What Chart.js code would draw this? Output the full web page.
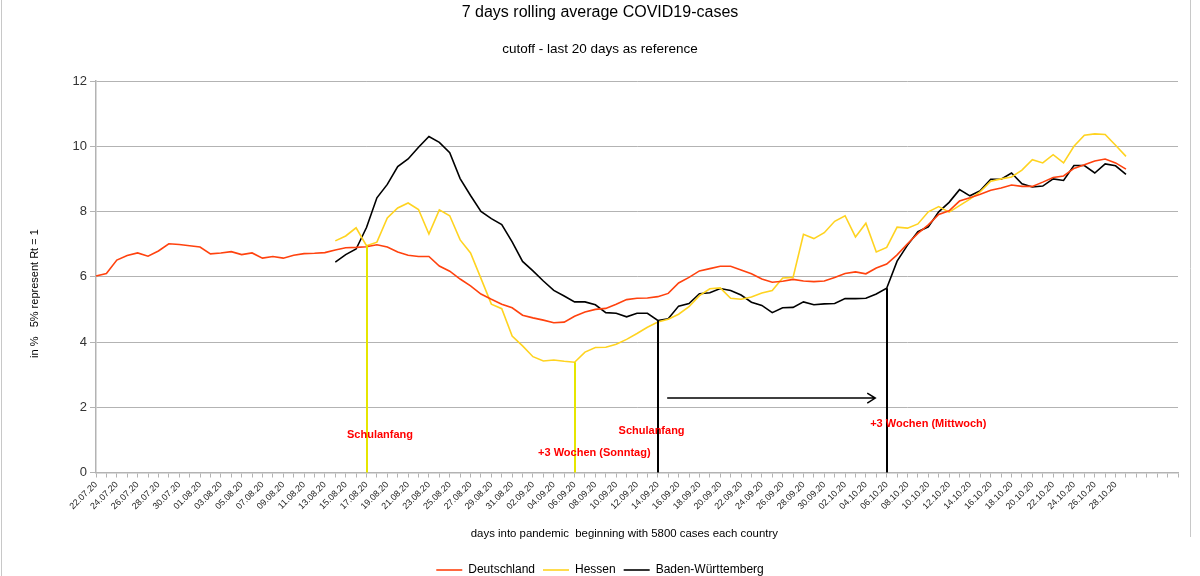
<!DOCTYPE html>
<html>
<head>
<meta charset="utf-8">
<script src="https://cdn.jsdelivr.net/npm/chart.js@4"></script>
<style>
html,body{margin:0;padding:0;background:#fff;}
#wrap{width:1200px;height:576px;position:relative;overflow:hidden;}
</style>
</head>
<body>
<div id="wrap"><canvas id="c" width="1200" height="576"></canvas></div>
<script>
// ---- categories (days) ----
const categories = [
'22.07.20','23.07.20','24.07.20','25.07.20','26.07.20','27.07.20','28.07.20','29.07.20','30.07.20','31.07.20',
'01.08.20','02.08.20','03.08.20','04.08.20','05.08.20','06.08.20','07.08.20','08.08.20','09.08.20','10.08.20',
'11.08.20','12.08.20','13.08.20','14.08.20','15.08.20','16.08.20','17.08.20','18.08.20','19.08.20','20.08.20',
'21.08.20','22.08.20','23.08.20','24.08.20','25.08.20','26.08.20','27.08.20','28.08.20','29.08.20','30.08.20',
'31.08.20','01.09.20','02.09.20','03.09.20','04.09.20','05.09.20','06.09.20','07.09.20','08.09.20','09.09.20',
'10.09.20','11.09.20','12.09.20','13.09.20','14.09.20','15.09.20','16.09.20','17.09.20','18.09.20','19.09.20',
'20.09.20','21.09.20','22.09.20','23.09.20','24.09.20','25.09.20','26.09.20','27.09.20','28.09.20','29.09.20',
'30.09.20','01.10.20','02.10.20','03.10.20','04.10.20','05.10.20','06.10.20','07.10.20','08.10.20','09.10.20',
'10.10.20','11.10.20','12.10.20','13.10.20','14.10.20','15.10.20','16.10.20','17.10.20','18.10.20','19.10.20',
'20.10.20','21.10.20','22.10.20','23.10.20','24.10.20','25.10.20','26.10.20','27.10.20','28.10.20','29.10.20',
'','','','',''
];
// last labelled day on the axis
const lastLabel = '28.10.20';

// ---- series values (in %) ----
const deutschland = [
6.02,6.10,6.51,6.65,6.73,6.63,6.79,7.01,6.99,6.95,
6.91,6.70,6.73,6.77,6.68,6.73,6.57,6.62,6.57,6.66,
6.71,6.72,6.74,6.82,6.89,6.90,6.92,6.98,6.91,6.76,
6.66,6.62,6.62,6.33,6.17,5.93,5.72,5.47,5.31,5.16,
5.05,4.82,4.74,4.67,4.59,4.61,4.79,4.92,5.00,5.03,
5.16,5.30,5.34,5.35,5.39,5.49,5.81,5.98,6.18,6.25,
6.32,6.32,6.21,6.09,5.93,5.83,5.86,5.92,5.87,5.85,
5.87,5.98,6.10,6.15,6.09,6.27,6.39,6.67,7.01,7.33,
7.59,7.91,8.02,8.32,8.42,8.53,8.65,8.72,8.81,8.77,
8.77,8.90,9.04,9.09,9.32,9.43,9.55,9.61,9.49,9.30
];
const hessen = [
null,null,null,null,null,null,null,null,null,null,
null,null,null,null,null,null,null,null,null,null,
null,null,null,7.10,7.25,7.50,6.95,7.06,7.80,8.11,
8.26,8.06,7.31,8.05,7.87,7.13,6.73,5.95,5.16,5.02,
4.18,3.88,3.55,3.42,3.45,3.41,3.38,3.69,3.83,3.84,
3.93,4.08,4.26,4.45,4.61,4.70,4.85,5.08,5.42,5.63,
5.66,5.34,5.31,5.38,5.50,5.58,5.96,5.98,7.30,7.17,
7.35,7.70,7.87,7.22,7.64,6.76,6.90,7.52,7.49,7.62,
7.99,8.15,7.98,8.18,8.38,8.61,8.93,9.00,9.06,9.27,
9.59,9.49,9.74,9.49,10.00,10.34,10.38,10.36,10.03,9.69
];
const badenWuerttemberg = [
null,null,null,null,null,null,null,null,null,null,
null,null,null,null,null,null,null,null,null,null,
null,null,null,6.45,6.68,6.85,7.51,8.42,8.83,9.38,
9.61,9.97,10.30,10.12,9.80,9.01,8.49,8.00,7.78,7.60,
7.07,6.47,6.18,5.87,5.58,5.41,5.23,5.23,5.14,4.90,
4.88,4.77,4.88,4.88,4.66,4.71,5.10,5.18,5.48,5.51,
5.64,5.58,5.44,5.22,5.12,4.90,5.05,5.06,5.23,5.14,
5.17,5.18,5.33,5.33,5.34,5.47,5.65,6.48,6.97,7.38,
7.53,7.99,8.28,8.67,8.48,8.64,8.99,8.99,9.18,8.85,
8.75,8.78,9.00,8.95,9.41,9.41,9.18,9.46,9.40,9.14
];

// ---- y ticks ----
const yTicks = [0, 2, 4, 6, 8, 10, 12];

// ---- event markers (vertical lines from series value down to 0) ----
const markerDays   = ['17.08.20', '06.09.20', '14.09.20', '06.10.20'];
const markerSeries = ['hessen', 'hessen', 'bw', 'bw'];
const markerColors = ['#e6e600', '#e6e600', '#000000', '#000000'];

// ---- text notes (data coordinates: day index, value) ----
const noteTexts  = ['Schulanfang', '+3 Wochen (Sonntag)', 'Schulanfang', '+3 Wochen (Mittwoch)'];
const noteDays   = [27.3, 47.9, 53.4, 80.0];
const noteValues = [1.15, 0.60, 1.27, 1.49];

// ---- arrow (day index from/to, value) ----
const arrowFrom = 54.9, arrowTo = 74.9, arrowValue = 2.28;

const seriesByName = { deutschland: deutschland, hessen: hessen, bw: badenWuerttemberg };

Chart.defaults.font.family = '"Liberation Sans", Arial, sans-serif';
Chart.defaults.color = '#000';

const overlay = {
  id: 'overlay',
  beforeDraw(chart) {
    const c = chart.ctx;
    c.save();
    c.fillStyle = '#fff';
    c.fillRect(0, 0, chart.width, chart.height);
    c.restore();
  },
  afterDatasetsDraw(chart) {
    const c = chart.ctx;
    const x = chart.scales.x, y = chart.scales.y;
    c.save();
    markerDays.forEach((d, k) => {
      const i = categories.indexOf(d);
      const v = seriesByName[markerSeries[k]][i];
      const px = Math.round(x.getPixelForValue(i));
      c.strokeStyle = markerColors[k];
      c.lineWidth = 2;
      c.beginPath();
      c.moveTo(px, y.getPixelForValue(v));
      c.lineTo(px, y.getPixelForValue(0));
      c.stroke();
    });
    // arrow
    const ax1 = x.getPixelForValue(arrowFrom), ax2 = x.getPixelForValue(arrowTo), ay = y.getPixelForValue(arrowValue);
    c.strokeStyle = '#000';
    c.lineWidth = 1.5;
    c.beginPath();
    c.moveTo(ax1, ay); c.lineTo(ax2, ay);
    c.moveTo(ax2 - 8, ay - 5); c.lineTo(ax2, ay); c.lineTo(ax2 - 8, ay + 5);
    c.stroke();
    // notes
    c.font = 'bold 11px "Liberation Sans", Arial, sans-serif';
    c.fillStyle = '#ff0000';
    c.textAlign = 'center';
    c.textBaseline = 'middle';
    noteTexts.forEach((t, k) => {
      c.fillText(t, x.getPixelForValue(noteDays[k]), y.getPixelForValue(noteValues[k]));
    });
    c.restore();
  },
  afterDraw(chart) {
    const c = chart.ctx;
    c.save();
    c.strokeStyle = '#c8c8c8';
    c.lineWidth = 1;
    c.beginPath();
    c.moveTo(1.5, 0); c.lineTo(1.5, chart.height);
    c.moveTo(1190.5, 0); c.lineTo(1190.5, 537);
    c.stroke();
    c.restore();
  }
};

new Chart(document.getElementById('c'), {
  type: 'line',
  data: {
    labels: categories,
    datasets: [
      { label: 'Deutschland', data: deutschland, borderColor: '#ff420e', backgroundColor: '#ff420e', borderWidth: 1.6, pointRadius: 0, tension: 0 },
      { label: 'Hessen', data: hessen, borderColor: '#ffd320', backgroundColor: '#ffd320', borderWidth: 1.6, pointRadius: 0, tension: 0 },
      { label: 'Baden-Württemberg', data: badenWuerttemberg, borderColor: '#000000', backgroundColor: '#000000', borderWidth: 1.6, pointRadius: 0, tension: 0 }
    ]
  },
  options: {
    responsive: false,
    animation: false,
    events: [],
    layout: { padding: { left: 0, right: 0, top: 0, bottom: -10 } },
    plugins: {
      title: { display: true, text: '7 days rolling average COVID19-cases', font: { size: 16, weight: 'normal' }, color: '#000', padding: { top: 3, bottom: 14 } },
      subtitle: { display: true, text: 'cutoff - last 20 days as reference', font: { size: 13.5 }, color: '#000', padding: { top: 5, bottom: 23.6 } },
      legend: {
        position: 'bottom',
        labels: { usePointStyle: true, pointStyle: 'line', pointStyleWidth: 26, font: { size: 12 }, color: '#000', padding: 8 }
      },
      tooltip: { enabled: false }
    },
    scales: {
      x: {
        type: 'category',
        offset: false,
        grid: { display: true, drawOnChartArea: false, drawTicks: true, tickLength: 5, color: '#b3b3b3' },
        border: { color: '#b3b3b3', width: 1.5 },
        ticks: {
          autoSkip: false, maxRotation: 45, minRotation: 45, padding: 2,
          font: { size: 9 }, color: '#222',
          callback: function (v, i) {
            const lab = categories[i];
            if (!lab || i % 2 !== 0 || i > categories.indexOf(lastLabel)) return '';
            return lab;
          }
        },
        title: { display: true, text: 'days into pandemic  beginning with 5800 cases each country        ', font: { size: 11.4 }, color: '#000', padding: { top: 0, bottom: 15 } },
        afterFit: function (s) { s.height = 83.5; }
      },
      y: {
        min: 0, max: 12,
        afterBuildTicks: function (s) { s.ticks = yTicks.map(v => ({ value: v })); },
        grid: { color: '#b3b3b3', tickLength: 6 },
        border: { color: '#b3b3b3', width: 1.5 },
        ticks: { font: { size: 13 }, color: '#333', padding: 3 },
        title: { display: true, text: 'in %   5% represent Rt = 1' + '           ', font: { size: 11 }, color: '#000', padding: { top: 28, bottom: 0 } },
        afterFit: function (s) { s.width = 96; }
      },
      spacer: {
        type: 'linear',
        position: 'right',
        display: true,
        grid: { display: false },
        border: { display: false },
        ticks: { display: false },
        title: { display: false },
        afterFit: function (s) { s.width = 22; }
      }
    }
  },
  plugins: [overlay]
});
</script>
</body>
</html>
